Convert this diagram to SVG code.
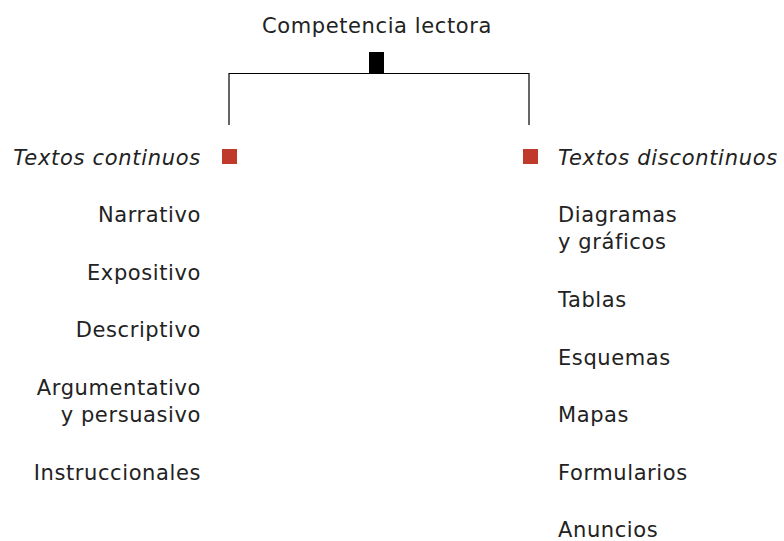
<svg xmlns="http://www.w3.org/2000/svg" width="784" height="541" viewBox="0 0 784 541">
<style>
text{font-family:"DejaVu Sans","Noto Sans",sans-serif;font-size:21px;fill:#222;letter-spacing:0.6px}
.it{font-style:italic;letter-spacing:0.7px}
.l{text-anchor:end}
.c{text-anchor:middle}
.red{fill:#bf3a2b}
.ln{fill:none;stroke:#000;stroke-width:1.2}
</style>
<rect width="784" height="541" fill="#fff"/>
<g id="root">
<text class="c" x="377" y="33">Competencia lectora</text>
<rect x="369" y="52" width="15" height="21" fill="#000"/>
</g>
<g id="connectors">
<path class="ln" d="M229 125V73.5H529V125"/>
</g>
<g id="continuos">
<rect class="red" x="222" y="149" width="15" height="15"/>
<text class="it l" x="201" y="165">Textos continuos</text>
</g>
<g id="cont-items">
<text class="l" x="201" y="222">Narrativo</text>
<text class="l" x="201" y="280">Expositivo</text>
<text class="l" x="201" y="337">Descriptivo</text>
<text class="l" x="201" y="395">Argumentativo</text>
<text class="l" x="201" y="422">y persuasivo</text>
<text class="l" x="201" y="480">Instruccionales</text>
</g>
<g id="discontinuos">
<rect class="red" x="523" y="149" width="15" height="15"/>
<text class="it" x="558" y="165">Textos discontinuos</text>
</g>
<g id="disc-items">
<text x="558" y="222">Diagramas</text>
<text x="558" y="249">y gráficos</text>
<text x="558" y="307">Tablas</text>
<text x="558" y="365">Esquemas</text>
<text x="558" y="422">Mapas</text>
<text x="558" y="480">Formularios</text>
<text x="558" y="537">Anuncios</text>
</g>
</svg>
